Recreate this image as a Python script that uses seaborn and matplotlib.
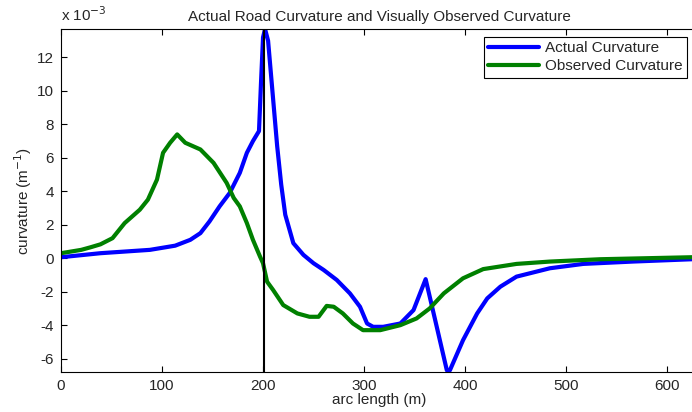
import numpy as np
import pandas as pd
import matplotlib
matplotlib.use("Agg")
import matplotlib.pyplot as plt
import seaborn as sns
from matplotlib.ticker import FuncFormatter

# values (curvature in units of 1e-3 1/m)
actual_s = [0, 39, 88, 113, 128, 138, 147, 157, 167, 177, 184, 190, 194, 196, 198,
            200, 202, 205, 209, 214, 218, 222, 230, 240, 250, 260, 273, 286, 296,
            303, 309, 319, 336, 349, 361, 372, 382, 385, 398, 412, 422, 435, 451,
            484, 517, 566, 625]
actual_k = [0.06, 0.3, 0.5, 0.75, 1.1, 1.5, 2.2, 3.1, 3.9, 5.1, 6.3, 7.0, 7.4, 7.6, 10.5,
            13.2, 13.7, 13.0, 10.2, 6.7, 4.4, 2.6, 0.9, 0.2, -0.3, -0.7, -1.3, -2.1, -2.9,
            -3.9, -4.1, -4.1, -3.9, -3.1, -1.25, -4.1, -6.7, -6.7, -4.9, -3.3, -2.4, -1.7, -1.1,
            -0.6, -0.34, -0.2, -0.06]

observed_s = [0, 20, 29, 39, 51, 63, 78, 86, 95, 101, 108, 115, 123, 138, 151, 164, 171,
              177, 184, 190, 197, 200, 204, 210, 220, 234, 246, 255, 263, 270, 279, 289,
              299, 316, 336, 352, 365, 379, 398, 418, 451, 484, 534, 625]
observed_k = [0.3, 0.5, 0.65, 0.83, 1.2, 2.1, 2.9, 3.5, 4.7, 6.3, 6.9, 7.4, 6.9, 6.5, 5.7, 4.5, 3.6,
              3.1, 2.1, 1.1, 0.1, -0.3, -1.4, -1.9, -2.8, -3.3, -3.5, -3.5, -2.85, -2.9, -3.3, -3.9,
              -4.3, -4.3, -4.0, -3.6, -3.0, -2.1, -1.2, -0.65, -0.34, -0.2, -0.06, 0.06]

marker_s = 201

df_actual = pd.DataFrame({"s": actual_s, "k": np.array(actual_k) * 1e-3})
df_obs = pd.DataFrame({"s": observed_s, "k": np.array(observed_k) * 1e-3})

sns.set_style("white")
plt.rcParams.update({
    "font.family": ["Liberation Sans", "DejaVu Sans"],
    "font.size": 11,
    "axes.edgecolor": "black",
    "axes.linewidth": 0.8,
})

fig = plt.figure(figsize=(6.92, 4.12), dpi=100)
ax = fig.add_axes([0.0882, 0.0971, 0.9195, 0.8325])

sns.lineplot(data=df_actual, x="s", y="k", ax=ax, color=(0, 0, 1), linewidth=3,
             sort=False, label="Actual Curvature")
sns.lineplot(data=df_obs, x="s", y="k", ax=ax, color=(0, 0.5, 0), linewidth=3,
             sort=False, label="Observed Curvature")
ax.axvline(marker_s, color="black", linewidth=1.5)

ax.set_xlim(0, 630)
ax.set_ylim(-6.8e-3, 13.7e-3)
ax.set_xticks(np.arange(0, 601, 100))
ax.set_yticks(np.arange(-6, 13, 2) * 1e-3)
ax.yaxis.set_major_formatter(FuncFormatter(lambda v, p: f"{v * 1e3:g}"))
ax.tick_params(axis="both", which="major", direction="in", length=4, width=0.8,
               color="black", labelsize=11, pad=5,
               bottom=True, top=True, left=True, right=False)
ax.spines["right"].set_visible(False)

ax.set_title("Actual Road Curvature and Visually Observed Curvature", fontsize=11, pad=6)
ax.set_xlabel("arc length (m)", labelpad=0)
ax.set_ylabel("curvature (m$^{-1}$)", labelpad=2)
ax.text(0.0, 1.015, "x 10$^{-3}$", transform=ax.transAxes, ha="left", va="bottom")

leg = ax.legend(loc="upper right", bbox_to_anchor=(0.984, 0.977), frameon=True, fancybox=False,
                edgecolor="black", framealpha=1, borderpad=0.3, handlelength=3.3,
                labelspacing=0.25, handletextpad=0.4, borderaxespad=0)
leg.get_frame().set_linewidth(0.8)

fig.savefig("out.png", dpi=100)
